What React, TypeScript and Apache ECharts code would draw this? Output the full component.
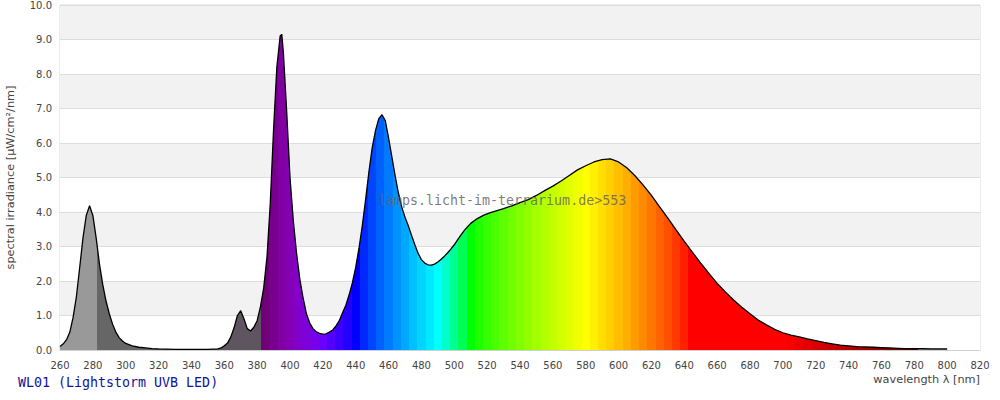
import React, { useEffect, useRef } from "react";
import * as echarts from "echarts";

const wavelengths = [
  260, 262, 264, 266, 268, 270, 272, 274, 276, 278, 280, 282, 284, 286, 288, 290, 292, 294, 296, 298,
  300, 304, 308, 312, 316, 320, 330, 340, 350, 356, 358, 360, 362, 364, 366, 368, 370, 372, 374, 376,
  378, 380, 382, 384, 386, 388, 390, 392, 394, 395, 396, 398, 400, 402, 404, 406, 408, 410, 412, 414,
  416, 418, 420, 422, 424, 426, 428, 430, 432, 434, 436, 438, 440, 442, 444, 446, 448, 450, 452, 454,
  456, 458, 460, 462, 464, 466, 468, 470, 472, 474, 476, 478, 480, 482, 484, 486, 488, 490, 492, 494,
  496, 498, 500, 502, 504, 506, 508, 510, 514, 518, 522, 526, 530, 535, 540, 545, 550, 555, 560, 565,
  570, 575, 580, 585, 590, 595, 600, 605, 610, 615, 620, 625, 630, 635, 640, 645, 650, 655, 660, 665,
  670, 675, 680, 685, 690, 695, 700, 705, 710, 715, 720, 725, 730, 735, 740, 745, 750, 755, 760, 765,
  770, 775, 780, 785, 790, 795, 800,
];

const irradiance = [
  0.10, 0.18, 0.30, 0.52, 0.95, 1.55, 2.40, 3.25, 3.90, 4.18, 3.90, 3.25, 2.50, 1.90, 1.42, 1.05, 0.75, 0.52, 0.36, 0.26,
  0.19, 0.12, 0.08, 0.06, 0.04, 0.03, 0.02, 0.02, 0.02, 0.03, 0.06, 0.12, 0.20, 0.38, 0.65, 1.00, 1.14, 0.90, 0.62, 0.55,
  0.66, 0.85, 1.25, 1.80, 2.70, 4.25, 6.40, 8.20, 9.10, 9.15, 8.60, 6.90, 5.00, 3.75, 2.80, 2.05, 1.50, 1.05, 0.78, 0.62,
  0.53, 0.48, 0.46, 0.47, 0.52, 0.58, 0.70, 0.85, 1.08, 1.30, 1.60, 1.95, 2.40, 2.95, 3.60, 4.35, 5.15, 5.85, 6.35, 6.70,
  6.82, 6.65, 6.15, 5.60, 5.05, 4.55, 4.15, 3.85, 3.60, 3.32, 3.05, 2.80, 2.62, 2.52, 2.47, 2.46, 2.49, 2.55, 2.63, 2.72,
  2.82, 2.93, 3.05, 3.19, 3.33, 3.46, 3.57, 3.67, 3.81, 3.91, 3.98, 4.04, 4.10, 4.18, 4.27, 4.36, 4.48, 4.62, 4.75, 4.90,
  5.06, 5.22, 5.34, 5.45, 5.52, 5.54, 5.45, 5.28, 5.05, 4.78, 4.48, 4.15, 3.82, 3.48, 3.15, 2.83, 2.52, 2.22, 1.93, 1.68,
  1.45, 1.24, 1.05, 0.87, 0.73, 0.60, 0.50, 0.43, 0.38, 0.32, 0.27, 0.22, 0.18, 0.14, 0.12, 0.10, 0.09, 0.08, 0.07, 0.06,
  0.05, 0.04, 0.04, 0.04, 0.03, 0.03, 0.03,
];

const title = "WL01 (Lightstorm UVB LED)";
const watermark = "lamps.licht-im-terrarium.de>553";
const xName = "wavelength λ [nm]";
const yName = "spectral irradiance [µW/cm²/nm]";

// colour of a 5 nm stripe centred on wavelength w
function stripeColor(w: number): string {
  if (w <= 280) return "#999999";
  if (w <= 315) return "#666666";
  if (w <= 380) return "#5f5560";
  if (w > 780) return "#777777";
  let r = 0, g = 0, b = 0;
  if (w < 440) { r = (440 - w) / 60; b = 1; }
  else if (w < 490) { g = (w - 440) / 50; b = 1; }
  else if (w < 510) { g = 1; b = (510 - w) / 20; }
  else if (w < 580) { r = (w - 510) / 70; g = 1; }
  else if (w < 645) { r = 1; g = (645 - w) / 65; }
  else { r = 1; }
  let f = 1;
  if (w < 420) f = 0.3 + (0.7 * (w - 380)) / 40;
  else if (w > 700) f = 0.3 + (0.7 * (780 - w)) / 80;
  const c = (v: number) => (v <= 0 ? 0 : Math.round(255 * Math.pow(v * f, 0.8)));
  return `rgb(${c(r)},${c(g)},${c(b)})`;
}

function buildGradient() {
  const first = wavelengths[0];
  const last = wavelengths[wavelengths.length - 1];
  const span = last - first;
  const stops: { offset: number; color: string }[] = [];
  for (let c = first; c <= last; c += 5) {
    const a = Math.max(first, c - 2.5);
    const b = Math.min(last, c + 2.5);
    const col = stripeColor(c);
    stops.push({ offset: (a - first) / span, color: col });
    stops.push({ offset: (b - first) / span, color: col });
  }
  return new echarts.graphic.LinearGradient(0, 0, 1, 0, stops);
}

export default function App() {
  const ref = useRef<HTMLDivElement>(null);
  useEffect(() => {
    if (!ref.current) return;
    const chart = echarts.init(ref.current, null, { renderer: "svg" });
    const data = wavelengths.map((w, i) => [w, irradiance[i]]);
    const labelFont = { color: "#444444", fontSize: 10, fontFamily: "DejaVu Sans" };
    chart.setOption({
      animation: false,
      backgroundColor: "#ffffff",
      grid: {
        left: 60, right: 20, top: 5, bottom: 50,
        containLabel: false,
        outerBoundsMode: "none",
        show: true, borderColor: "#d9d9d9", borderWidth: 1, backgroundColor: "transparent",
      },
      xAxis: {
        type: "value", min: 260, max: 820, interval: 20,
        axisLine: { show: true, lineStyle: { color: "#d0d0d0" } },
        axisTick: { show: false },
        splitLine: { show: false },
        axisLabel: { ...labelFont, margin: 10 },
      },
      yAxis: {
        type: "value", min: 0, max: 10, interval: 1,
        name: yName, nameLocation: "middle", nameGap: 44, nameRotate: 90,
        nameTextStyle: { ...labelFont, fontSize: 11.3 },
        axisLine: { show: false },
        axisTick: { show: false },
        splitLine: { show: true, lineStyle: { color: "#dddddd" } },
        splitArea: { show: true, areaStyle: { color: ["#ffffff", "#f2f2f2"] } },
        axisLabel: { ...labelFont, margin: 8, formatter: (v: number) => v.toFixed(1) },
      },
      series: [
        {
          type: "line", data, symbol: "none", silent: true,
          lineStyle: { width: 0, opacity: 0 },
          areaStyle: { color: buildGradient(), opacity: 1 },
          z: 2,
        },
        {
          type: "line", data, symbol: "none", silent: true,
          lineStyle: { width: 1.3, color: "#000000" },
          z: 3,
        },
      ],
      graphic: [
        {
          type: "text", left: 18, top: 376,
          style: { text: title, font: '13.3px "DejaVu Sans Mono"', fill: "#12129a" },
        },
        {
          type: "text", right: 20, top: 374,
          style: { text: xName, font: '11.3px "DejaVu Sans"', fill: "#444444" },
        },
        {
          type: "text", left: 378, top: 194, z: 100,
          style: { text: watermark, font: '13.3px "DejaVu Sans Mono"', fill: "#666666", opacity: 0.85 },
        },
      ],
    });
    return () => chart.dispose();
  }, []);
  return <div ref={ref} style={{ position: "fixed", left: 0, top: 0, width: 1000, height: 400 }} />;
}
